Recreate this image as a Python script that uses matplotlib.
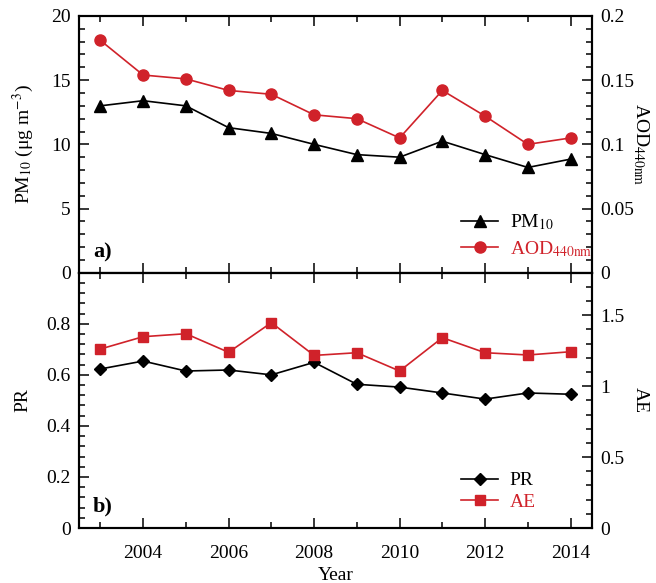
import numpy as np
import matplotlib
matplotlib.use('Agg')
import matplotlib.pyplot as plt
from matplotlib.ticker import MultipleLocator, FormatStrFormatter, FixedLocator

plt.rcParams['font.family'] = ['Liberation Serif', 'DejaVu Serif']
plt.rcParams['mathtext.fontset'] = 'stix'
plt.rcParams['font.size'] = 14

# Datos
years = np.arange(2003, 2015)
pm10 = [13.0, 13.4, 13.0, 11.3, 10.85, 10.0, 9.2, 9.0, 10.25, 9.2, 8.2, 8.85]
aod440 = [0.181, 0.154, 0.151, 0.142, 0.139, 0.123, 0.120, 0.105, 0.142, 0.122, 0.100, 0.105]
pr = [0.623, 0.654, 0.615, 0.619, 0.600, 0.649, 0.563, 0.552, 0.529, 0.505, 0.529, 0.524]
ae = [1.262, 1.349, 1.370, 1.239, 1.448, 1.217, 1.236, 1.107, 1.342, 1.236, 1.220, 1.243]

red = '#d0222a'
lw = 1.2

fig = plt.figure(figsize=(6.56, 5.83), dpi=100)
ax1 = fig.add_axes([0.1204, 0.5322, 0.782, 0.4404])
ax2 = fig.add_axes([0.1204, 0.0943, 0.782, 0.4379], sharex=ax1)
ax1r = ax1.twinx()
ax2r = ax2.twinx()


def style(ax, right=False):
    for s in ax.spines.values():
        s.set_linewidth(1.5)
    ax.tick_params(which='both', direction='in', width=1.1, pad=6,
                   labelsize=14,
                   top=not right, bottom=not right,
                   left=not right, right=right,
                   labelleft=not right, labelright=right)
    ax.tick_params(which='major', length=7)
    ax.tick_params(which='minor', length=4)


# Panel a)
l1, = ax1.plot(years, pm10, color='k', marker='^', ms=8, lw=lw, label='PM$_{10}$')
l2, = ax1r.plot(years, aod440, color=red, marker='o', ms=8, lw=lw,
                label=r'AOD$_{\mathrm{440nm}}$')
ax1.set_xlim(2002.5, 2014.5)
ax1.set_ylim(0, 20)
ax1r.set_ylim(0, 0.2)
ax1.yaxis.set_major_locator(MultipleLocator(5))
ax1.yaxis.set_minor_locator(MultipleLocator(1))
ax1r.yaxis.set_major_locator(MultipleLocator(0.05))
ax1r.yaxis.set_minor_locator(MultipleLocator(0.01))
ax1r.yaxis.set_major_formatter(FormatStrFormatter('%g'))
ax1.xaxis.set_major_locator(MultipleLocator(2))
ax1.xaxis.set_minor_locator(MultipleLocator(1))
style(ax1)
style(ax1r, right=True)
ax1.tick_params(labelbottom=False)
ax1.set_ylabel('PM$_{10}$ (μg m$^{-3}$)', labelpad=11)
ax1r.set_ylabel(r'AOD$_{\mathrm{440nm}}$', rotation=270)
ax1r.yaxis.set_label_coords(1.095, 0.5)
ax1r.yaxis.label.set_verticalalignment('center')
ax1.text(0.027, 0.077, 'a)', transform=ax1.transAxes, fontsize=16,
         fontweight='bold', va='center', ha='left')
leg1 = ax1.legend([l1, l2], [l1.get_label(), l2.get_label()], loc='upper left',
                  bbox_to_anchor=(0.745, 0.235), frameon=False, borderpad=0,
                  borderaxespad=0, handlelength=1.9, handletextpad=0.6,
                  labelspacing=0.35, fontsize=14)
leg1.get_texts()[1].set_color(red)

# Panel b)
l3, = ax2.plot(years, pr, color='k', marker='D', ms=6.5, lw=lw, label='PR')
l4, = ax2r.plot(years, ae, color=red, marker='s', ms=7, lw=lw, label='AE')
ax2.set_ylim(0, 1.0)
ax2r.set_ylim(0, 1.8)
ax2.yaxis.set_major_locator(FixedLocator([0, 0.2, 0.4, 0.6, 0.8]))
ax2.yaxis.set_minor_locator(MultipleLocator(0.04))
ax2.yaxis.set_major_formatter(FormatStrFormatter('%g'))
ax2r.yaxis.set_major_locator(FixedLocator([0, 0.5, 1.0, 1.5]))
ax2r.yaxis.set_minor_locator(MultipleLocator(0.1))
ax2r.yaxis.set_major_formatter(FormatStrFormatter('%g'))
style(ax2)
style(ax2r, right=True)
ax2.tick_params(axis='x', pad=12)
ax2.set_ylabel('PR', labelpad=11)
ax2r.set_ylabel('AE', rotation=270)
ax2r.yaxis.set_label_coords(1.095, 0.5)
ax2r.yaxis.label.set_verticalalignment('center')
ax2.set_xlabel('Year', labelpad=4)
ax2.text(0.027, 0.086, 'b)', transform=ax2.transAxes, fontsize=16,
         fontweight='bold', va='center', ha='left')
leg2 = ax2.legend([l3, l4], ['PR', 'AE'], loc='upper left',
                  bbox_to_anchor=(0.745, 0.22), frameon=False, borderpad=0,
                  borderaxespad=0, handlelength=1.9, handletextpad=0.6,
                  labelspacing=0.2, fontsize=14)
leg2.get_texts()[1].set_color(red)

fig.savefig('out.png', dpi=100)
